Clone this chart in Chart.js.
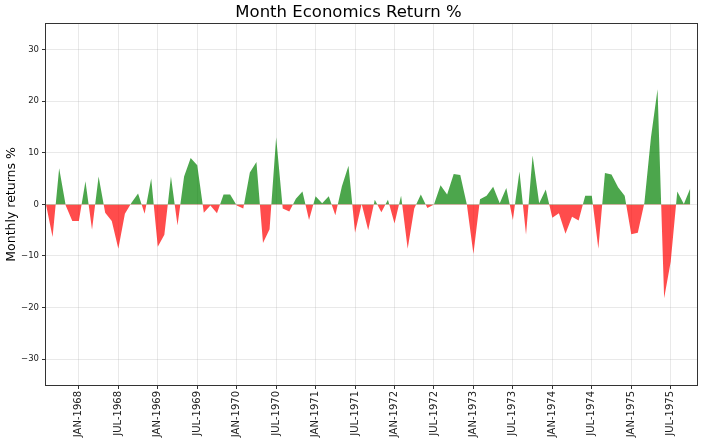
<!DOCTYPE html>
<html>
<head>
<meta charset="utf-8">
<script src="https://cdn.jsdelivr.net/npm/chart.js@4"></script>
<style>
  html, body { margin: 0; padding: 0; background: #fff; }
  #wrap { width: 702px; height: 443px; }
</style>
</head>
<body>
<div id="wrap"><canvas id="chart_returns"></canvas></div>
<script>
// monthly returns %, months 1..99 (month 0 = JUL-1967)
var returns = [
  0, -6.3, 7.0, -0.2, -3.2, -3.2, 4.5, -4.9, 5.4, -1.6,
  -3.2, -8.6, -1.8, 0.3, 2.1, -1.8, 5.0, -8.2, -5.9, 5.4,
  -4.1, 5.4, 9.0, 7.6, -1.6, -0.2, -1.7, 1.9, 1.9, -0.2,
  -0.8, 6.2, 8.2, -7.5, -4.8, 13.0, -0.8, -1.4, 1.1, 2.5,
  -3.0, 1.6, 0.2, 1.6, -2.1, 3.5, 7.5, -5.5, 0.1, -5.0,
  0.9, -1.5, 0.9, -3.7, 1.7, -8.6, -0.8, 1.9, -0.7, 0.0,
  3.7, 1.9, 5.9, 5.7, 0.0, -9.6, 1.0, 1.7, 3.4, 0.2,
  3.2, -3.0, 6.4, -5.9, 9.5, 0.2, 2.9, -2.6, -1.7, -5.7,
  -2.4, -3.1, 1.7, 1.7, -8.6, 6.1, 5.8, 3.3, 1.7, -5.8,
  -5.5, 0.3, 13.0, 22.3, -18.2, -11.1, 2.5, 0.1, 3.2
];

var tickLabels = ["JAN-1968", "JUL-1968", "JAN-1969", "JUL-1969", "JAN-1970", "JUL-1970",
  "JAN-1971", "JUL-1971", "JAN-1972", "JUL-1972", "JAN-1973", "JUL-1973",
  "JAN-1974", "JUL-1974", "JAN-1975", "JUL-1975"];
var tickMonths = [6, 12, 18, 24, 30, 36, 42, 48, 54, 60, 66, 72, 78, 84, 90, 96];
var yTicks = [-30, -20, -10, 0, 10, 20, 30];

Chart.defaults.font.family = "'DejaVu Sans', sans-serif";

var gridColor = 'rgba(176,176,176,0.28)';

// matplotlib style box round the plot
var frame = {
  id: 'frame',
  afterDraw: function (chart) {
    var a = chart.chartArea, c = chart.ctx;
    c.save();
    c.strokeStyle = '#333';
    c.lineWidth = 1;
    c.strokeRect(Math.round(a.left) - 0.5, Math.round(a.top) - 0.5,
      Math.round(a.right - a.left) + 1, Math.round(a.bottom - a.top) + 1);
    c.restore();
  }
};

var returnsData = {
  datasets: [{
    label: 'Monthly returns %',
    data: returns.map(function (v, i) { return { x: i + 1, y: v }; }),
    fill: { target: 'origin', above: 'rgba(0,128,0,0.7)', below: 'rgba(255,0,0,0.7)' },
    borderWidth: 0,
    borderColor: 'rgba(0,0,0,0)',
    pointRadius: 0,
    tension: 0
  }]
};

var chartOptions = {
  responsive: true,
  maintainAspectRatio: false,
  animation: false,
  layout: { padding: { left: 0, right: 5, top: 0, bottom: 0 } },
  plugins: {
    legend: { display: false },
    tooltip: { enabled: false },
    title: {
      display: true,
      text: 'Month Economics Return %',
      color: '#000',
      font: { size: 16.5, weight: 'normal' },
      padding: { top: 3, bottom: 1 }
    }
  },
  scales: {
    x: {
      type: 'linear',
      min: 1,
      max: 100,
      afterBuildTicks: function (s) {
        s.ticks = tickMonths.map(function (m) { return { value: m }; });
      },
      afterFit: function (s) { s.height = 58; },
      ticks: {
        autoSkip: false,
        minRotation: 90,
        maxRotation: 90,
        color: '#222',
        padding: 2,
        font: { size: 10 },
        callback: function (v, k) { return tickLabels[k]; }
      },
      grid: { color: gridColor, tickColor: '#333', tickLength: 4 },
      border: { display: false }
    },
    y: {
      min: -35,
      max: 35,
      afterBuildTicks: function (s) {
        s.ticks = yTicks.map(function (v) { return { value: v }; });
      },
      afterFit: function (s) { s.width = 46; },
      ticks: {
        color: '#222',
        padding: 3,
        font: { size: 8.5 },
        callback: function (v) { return String(v).replace('-', '\u2212'); }
      },
      title: {
        display: true,
        text: 'Monthly returns %',
        color: '#000',
        font: { size: 12.5 },
        padding: { top: 4, bottom: 0 }
      },
      grid: { color: gridColor, tickColor: '#333', tickLength: 4 },
      border: { display: false }
    }
  }
};

var returnsChart = new Chart(document.getElementById('chart_returns'), {
  type: 'line',
  data: returnsData,
  options: chartOptions,
  plugins: [frame]
});
</script>
</body>
</html>
